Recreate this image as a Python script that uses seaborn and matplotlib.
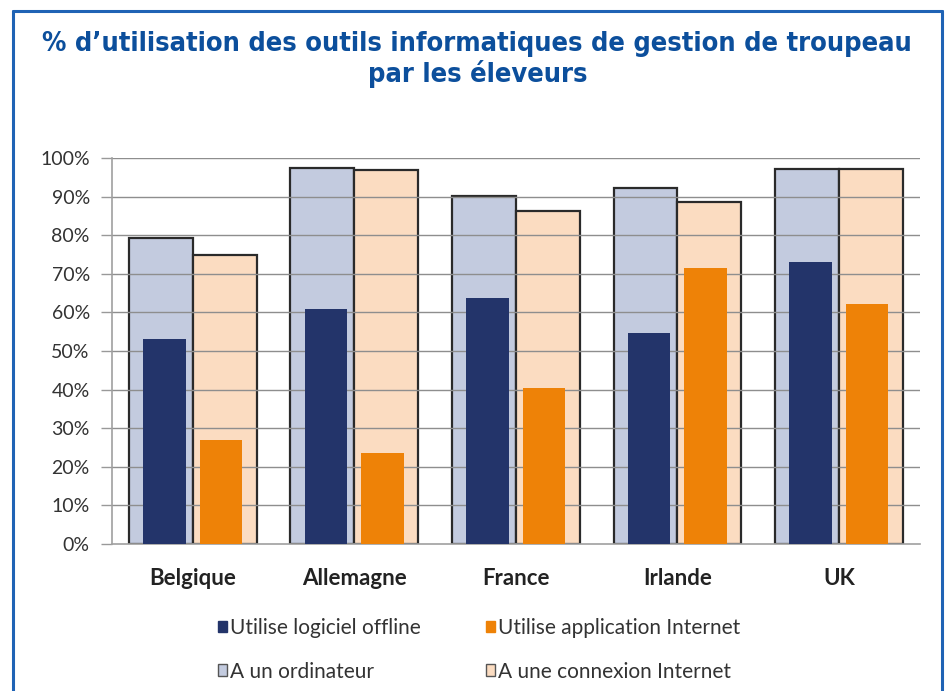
import matplotlib
matplotlib.use("Agg")
import matplotlib.pyplot as plt
from matplotlib.lines import Line2D
from matplotlib.patches import Patch
import seaborn as sns
import pandas as pd

# Data (percent of farmers)
pays = ["Belgique", "Allemagne", "France", "Irlande", "UK"]
a_ordinateur = [79.3, 97.4, 90.2, 92.3, 97.1]
a_connexion = [75.0, 96.8, 86.2, 88.7, 97.1]
logiciel_offline = [53.1, 60.8, 63.7, 54.6, 73.0]
application_internet = [27.0, 23.6, 40.4, 71.5, 62.1]

lab_ordi = "A un ordinateur"
lab_conn = "A une connexion Internet"
lab_off = "Utilise logiciel offline"
lab_app = "Utilise application Internet"

c_ordi = "#c3cbdf"
c_conn = "#fbdcc1"
c_off = "#23346a"
c_app = "#ee8207"
c_title = "#0c4f9c"
c_frame = "#1f63b5"

outer = pd.DataFrame({
    "pays": pays * 2,
    "valeur": a_ordinateur + a_connexion,
    "serie": [lab_ordi] * len(pays) + [lab_conn] * len(pays),
})
inner = pd.DataFrame({
    "pays": pays * 2,
    "valeur": logiciel_offline + application_internet,
    "serie": [lab_off] * len(pays) + [lab_app] * len(pays),
})

sns.set_style("white")
plt.rcParams["font.family"] = ["Lato", "DejaVu Sans"]

fig = plt.figure(figsize=(9.49, 6.91), dpi=100)
ax = fig.add_axes([0.118, 0.2127, 0.851, 0.5586])

# outer (background) bars
sns.barplot(data=outer, x="pays", y="valeur", hue="serie",
            palette=[c_ordi, c_conn], width=0.79, gap=0,
            edgecolor="#2a2a2a", linewidth=1.6, legend=False,
            ax=ax, zorder=1, saturation=1)

# horizontal gridlines on top of the light bars
for v in range(10, 101, 10):
    ax.axhline(v, color="#8e8e8e", linewidth=1.0, zorder=2)

# inner (front) bars
sns.barplot(data=inner, x="pays", y="valeur", hue="serie",
            palette=[c_off, c_app], width=0.7, gap=0.25,
            linewidth=0, legend=False, ax=ax, zorder=3, saturation=1)

ax.set_ylim(0, 100)
ax.set_xlim(-0.5, len(pays) - 0.5)
ax.set_yticks(range(0, 101, 10))
ax.set_yticklabels([f"{v}%" for v in range(0, 101, 10)], fontsize=14, color="#333333")
ax.set_xticks(range(len(pays)))
ax.set_xticklabels(pays, fontsize=16, fontweight="bold", color="#222222")
ax.set_xticks([i - 0.5 for i in range(len(pays) + 1)], minor=True)
ax.tick_params(axis="x", which="major", length=0, pad=17)
ax.tick_params(axis="x", which="minor", length=5, color="#999999", width=1)
ax.tick_params(axis="y", length=8, color="#999999", width=1, pad=8, left=True)
ax.set_xlabel("")
ax.set_ylabel("")
for s in ["top", "right"]:
    ax.spines[s].set_visible(False)
for s in ["left", "bottom"]:
    ax.spines[s].set_color("#a0a0a0")
    ax.spines[s].set_linewidth(1.2)

# title
fig.text(0.503, 0.914, "% d\u2019utilisation des outils informatiques de gestion de troupeau\npar les \u00e9leveurs",
         ha="center", va="center", fontsize=19.5, fontweight="bold", color=c_title,
         family="DejaVu Sans", fontstretch="condensed", linespacing=1.15)

# legend
handles = [
    Patch(facecolor=c_off, edgecolor=c_off),
    Patch(facecolor=c_ordi, edgecolor="#555555"),
    Patch(facecolor=c_app, edgecolor=c_app),
    Patch(facecolor=c_conn, edgecolor="#555555"),
]
labels = [lab_off, lab_ordi, lab_app, lab_conn]
fig.legend(handles, labels, loc="center", bbox_to_anchor=(0.505, 0.06), ncol=2,
           frameon=False, fontsize=15, labelcolor="#333333",
           handlelength=0.45, handleheight=0.45, handletextpad=0.15,
           columnspacing=3.1, labelspacing=1.15)

# blue frame around the chart
fig.add_artist(Line2D([0.0134, 0.0134], [0.0, 0.984], color=c_frame, linewidth=2.2))
fig.add_artist(Line2D([0.993, 0.993], [0.0, 0.984], color=c_frame, linewidth=2.2))
fig.add_artist(Line2D([0.0134, 0.993], [0.984, 0.984], color=c_frame, linewidth=2.2))

fig.savefig("out.png", dpi=100)
